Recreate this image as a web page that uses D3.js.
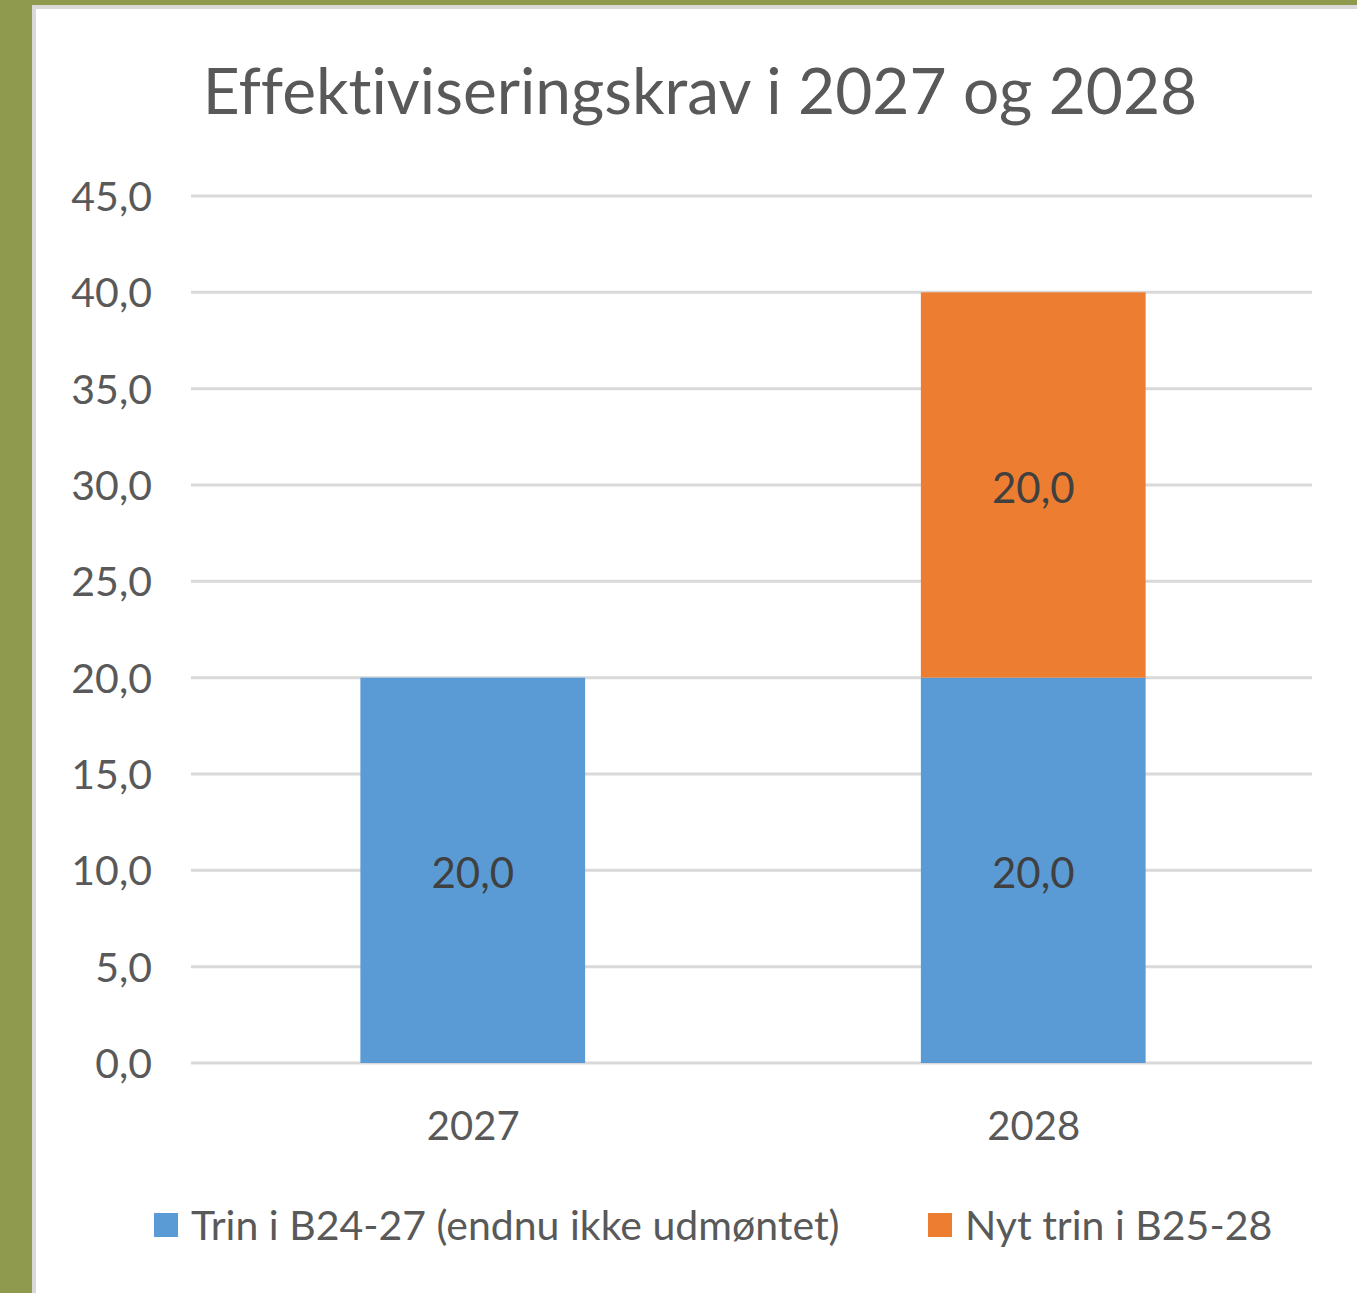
<!DOCTYPE html>
<html>
<head>
<meta charset="utf-8">
<script src="https://cdn.jsdelivr.net/npm/d3@7"></script>
<style>
  html, body { margin: 0; padding: 0; background: #8f9a4e; }
  svg { display: block; }
  text { font-family: Lato, "Open Sans", sans-serif; fill: #595959; font-variant-ligatures: none; }
</style>
</head>
<body>
<svg id="chart" width="1357" height="1293"></svg>
<script>
// chart data
var years = ["2027", "2028"];
var seriesNames = ["Trin i B24-27 (endnu ikke udmøntet)", "Nyt trin i B25-28"];
var trinB2427 = [20.0, 20.0];
var nytTrinB2528 = [0, 20.0];
var yTicks = [0, 5, 10, 15, 20, 25, 30, 35, 40, 45];
var colors = ["#5b9bd5", "#ed7d31"];

var svg = d3.select("#chart");

// white chart area inside the olive frame
svg.append("rect")
    .attr("x", 32).attr("y", 5)
    .attr("width", 1357 - 32).attr("height", 1293 - 5)
    .attr("fill", "#d9d9d9");
svg.append("rect")
    .attr("x", 36).attr("y", 9)
    .attr("width", 1357 - 36).attr("height", 1293 - 9)
    .attr("fill", "#ffffff");

var margin = {left: 191, right: 1312, top: 196, bottom: 1063};

var x = d3.scaleBand()
    .domain(years)
    .range([margin.left, margin.right])
    .padding(0);

var y = d3.scaleLinear()
    .domain([0, 45])
    .range([margin.bottom, margin.top]);

var fmt = function(v) { return d3.format(".1f")(v).replace(".", ","); };

// title
svg.append("text")
    .attr("x", 700)
    .attr("y", 114)
    .attr("text-anchor", "middle")
    .style("font-size", "64px")
    .text("Effektiviseringskrav i 2027 og 2028");

// gridlines
svg.append("g")
    .selectAll("line")
    .data(yTicks)
    .join("line")
    .attr("x1", margin.left)
    .attr("x2", margin.right)
    .attr("y1", function(d) { return y(d); })
    .attr("y2", function(d) { return y(d); })
    .attr("stroke", "#d9d9d9")
    .attr("stroke-width", 3);

// y axis labels
var yAxis = d3.axisLeft(y)
    .tickValues(yTicks)
    .tickFormat(fmt)
    .tickSize(0)
    .tickPadding(0);

var gy = svg.append("g")
    .attr("transform", "translate(152,0)")
    .call(yAxis);
gy.select(".domain").remove();
gy.selectAll("text")
    .style("font-size", "41px")
    .attr("fill", "#595959")
    .attr("dy", "0.35em");

// x axis labels
var xAxis = d3.axisBottom(x).tickSize(0).tickPadding(0);
var gx = svg.append("g")
    .attr("transform", "translate(2,1140)")
    .call(xAxis);
gx.select(".domain").remove();
gx.selectAll("text")
    .style("font-size", "40px")
    .attr("fill", "#595959")
    .attr("dy", 0);

// stacked bars
var table = years.map(function(yr, i) {
    return {year: yr, s0: trinB2427[i], s1: nytTrinB2528[i]};
});
var stack = d3.stack().keys(["s0", "s1"]);
var layers = stack(table);

var barW = x.bandwidth() * 0.401;

var layerG = svg.append("g")
    .selectAll("g")
    .data(layers)
    .join("g")
    .attr("fill", function(d, i) { return colors[i]; });

layerG.selectAll("rect")
    .data(function(d) { return d.filter(function(p) { return p[1] - p[0] > 0; }); })
    .join("rect")
    .attr("x", function(d) { return x(d.data.year) + (x.bandwidth() - barW) / 2 + 1.5; })
    .attr("width", barW)
    .attr("y", function(d) { return y(d[1]); })
    .attr("height", function(d) { return y(d[0]) - y(d[1]); });

layerG.selectAll("text")
    .data(function(d) { return d.filter(function(p) { return p[1] - p[0] > 0; }); })
    .join("text")
    .attr("x", function(d) { return x(d.data.year) + x.bandwidth() / 2 + 1.5; })
    .attr("y", function(d) { return (y(d[0]) + y(d[1])) / 2 + 3; })
    .attr("dy", "0.35em")
    .attr("text-anchor", "middle")
    .style("font-size", "42px")
    .style("fill", "#404040")
    .text(function(d) { return fmt(d[1] - d[0]); });

// legend
var legendX = [154, 928];
var legend = svg.append("g")
    .selectAll("g")
    .data(seriesNames)
    .join("g")
    .attr("transform", function(d, i) { return "translate(" + legendX[i] + ",1213)"; });
legend.append("rect")
    .attr("width", 24).attr("height", 24)
    .attr("fill", function(d, i) { return colors[i]; });
legend.append("text")
    .attr("x", 37)
    .attr("y", 27)
    .style("font-size", "41px")
    .text(function(d) { return d; });
</script>
</body>
</html>
